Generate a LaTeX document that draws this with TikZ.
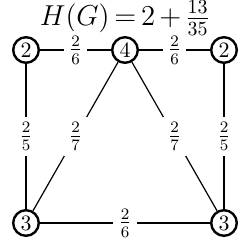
\documentclass[tikz,border=0pt]{standalone}
\usetikzlibrary{positioning}

\begin{document}
\begin{tikzpicture}[x=0.5pt, y=-0.5pt, line width=0.6pt, vtx/.style={draw, circle, very thick, minimum size=12.8pt, inner sep=0pt, font=\fontsize{11}{13}\selectfont}, wt/.style={fill=white, inner sep=2.6pt, font=\fontsize{11.5}{13}\selectfont}]
	\useasboundingbox (0,0) rectangle (250,249);
	\node[inner sep=0pt, font=\fontsize{13.6}{16}\selectfont] (title) at (125,18) {\thickmuskip=3mu\medmuskip=2.5mu$H(G) = 2 + \frac{13}{35}$};
	\node[vtx] (L) at (26,50) {$2$};
	\node[vtx] (M) at (125,50) {$4$};
	\node[vtx] (R) at (224,50) {$2$};
	\node[vtx] (BL) at (26,223) {$3$};
	\node[vtx] (BR) at (224,223) {$3$};
	\draw (L) -- node[wt] {$\frac{2}{6}$} (M);
	\draw (M) -- node[wt] {$\frac{2}{6}$} (R);
	\draw (L) -- node[wt] {$\frac{2}{5}$} (BL);
	\draw (R) -- node[wt] {$\frac{2}{5}$} (BR);
	\draw (M) -- node[wt] {$\frac{2}{7}$} (BL);
	\draw (M) -- node[wt] {$\frac{2}{7}$} (BR);
	\draw (BL) -- node[wt] {$\frac{2}{6}$} (BR);
\end{tikzpicture}
\end{document}
